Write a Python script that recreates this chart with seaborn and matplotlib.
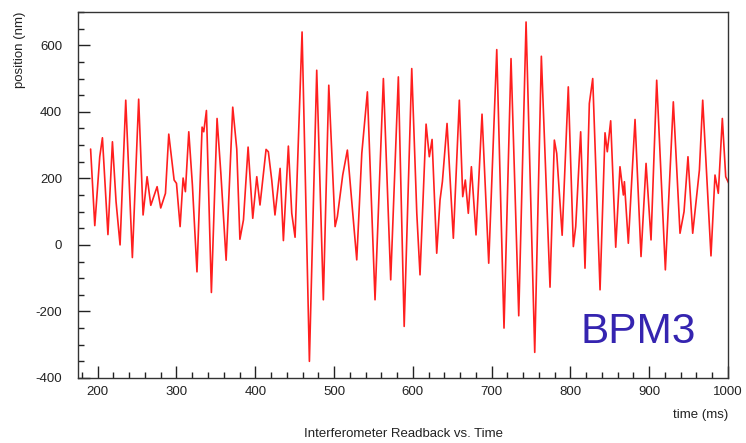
import matplotlib
matplotlib.use("Agg")
import matplotlib.pyplot as plt
import seaborn as sns
import pandas as pd
from matplotlib.ticker import MultipleLocator

# ---- data (time in ms, position in nm) ----
time_ms = [191, 196.3, 202.6, 206, 213, 218.7, 223.3, 228.4, 235.6, 244, 252, 257.6, 262.7,
           267.4, 275.4, 280, 286, 290.2, 297, 300, 304.6, 308.4, 311.3, 315.6, 320.2,
           326, 332.5, 334.6, 338, 344.3, 351.5, 356.4, 363, 371.4, 376.5, 380.5, 385,
           390.9, 396.8, 401.9, 406, 413.7, 416.6, 420.9, 425, 431.5, 435.7, 442, 446.3,
           450.5, 459.4, 468.7, 478, 486.4, 493.3, 501.3, 504.2, 511, 516.9, 528.8,
           535.2, 542.3, 552, 562.6, 571.9, 581.6, 589, 598.6, 605, 609.1, 616.8, 620.9,
           624.4, 630.3, 634.5, 637.5, 643.4, 651.4, 659, 663.3, 666.6, 670.4, 674.3,
           680.2, 687.8, 696.3, 706.5, 715.7, 724.6, 734.4, 743.7, 754.7, 763.1, 774.1,
           779.6, 782.6, 789.5, 797.3, 803.7, 806.7, 813, 818.5, 824, 828.3, 837.6,
           843.9, 846.8, 851.1, 857.5, 862.9, 867.2, 868.5, 873.5, 882, 889.6, 896,
           902.3, 909.5, 920.5, 930.6, 939.1, 944.2, 949.2, 955.2, 963.7, 967.9, 978.4,
           983.5, 987.7, 992.8, 997.1, 1001]
position_nm = [288, 58, 265, 322, 31, 310, 130, 0, 435, -38, 438, 90, 205,
               119, 175, 111, 155, 333, 195, 185, 55, 201, 160, 340, 180,
               -81, 354, 340, 404, -143, 380, 212, -46, 414, 288, 17, 75,
               294, 80, 205, 120, 287, 280, 195, 90, 230, 13, 297, 95,
               23, 640, -350, 525, -165, 480, 55, 85, 210, 285, -45,
               275, 460, -165, 500, -105, 505, -245, 530, 95, -90, 363, 265,
               317, -25, 135, 190, 365, 20, 435, 145, 195, 95, 235,
               30, 393, -55, 587, -250, 560, -213, 670, -323, 567, -127,
               315, 275, 29, 475, -5, 55, 340, -70, 425, 500, -135,
               337, 280, 373, -7, 235, 150, 190, 5, 377, -35, 245,
               15, 495, -75, 430, 35, 100, 265, 35, 225, 435, -33,
               210, 155, 380, 205, 185]

x_ticks = [200, 300, 400, 500, 600, 700, 800, 900, 1000]
y_ticks = [-400, -200, 0, 200, 400, 600]

x_label = "time (ms)"
y_label = "position (nm)"
title_text = "Interferometer Readback vs. Time"
tag_text = "BPM3"

df = pd.DataFrame({"time": time_ms, "position": position_nm})

sns.set_style("white")
plt.rcParams["font.family"] = ["Liberation Sans", "DejaVu Sans"]
plt.rcParams["axes.unicode_minus"] = False

fig = plt.figure(figsize=(7.46, 4.43), dpi=100)
ax = fig.add_axes([78 / 746, 1 - 378 / 443, 650 / 746, 366 / 443])

sns.lineplot(data=df, x="time", y="position", ax=ax, color="#ff1f1f",
             linewidth=1.2, sort=False, estimator=None)
for ln in ax.get_lines():
    ln.set_solid_joinstyle("round")

ax.set_xlim(175, 1000)
ax.set_ylim(-400, 700)
ax.set_xticks(x_ticks)
ax.set_xticklabels([str(v) for v in x_ticks])
ax.set_yticks(y_ticks)
ax.set_yticklabels([str(v) for v in y_ticks])
ax.xaxis.set_minor_locator(MultipleLocator(20))
ax.yaxis.set_minor_locator(MultipleLocator(50))

ax.tick_params(axis="both", which="both", bottom=True, left=True, top=False, right=False)
ax.tick_params(axis="both", which="major", direction="in", length=8.5, width=1.0,
               color="#222222", labelsize=9.5, labelcolor="#222222")
ax.tick_params(axis="both", which="minor", direction="in", length=4, width=1.0,
               color="#222222")
ax.tick_params(axis="y", which="major", pad=11.5)
ax.tick_params(axis="x", which="major", pad=6)

for s in ax.spines.values():
    s.set_color("#333333")
    s.set_linewidth(1.0)

ax.set_xlabel(x_label, loc="right", fontsize=9.5, color="#222222", labelpad=8)
ax.set_ylabel(y_label, loc="top", fontsize=9.5, color="#222222", labelpad=7)

fig.text(404 / 746, 1 - 434 / 443, title_text, ha="center", va="center",
         fontsize=9.5, color="#222222")

ax.text(0.773, 0.0956, tag_text, transform=ax.transAxes, ha="left",
        va="baseline", fontsize=30.5, color="#3524b0")

fig.savefig("out.png", dpi=100)
